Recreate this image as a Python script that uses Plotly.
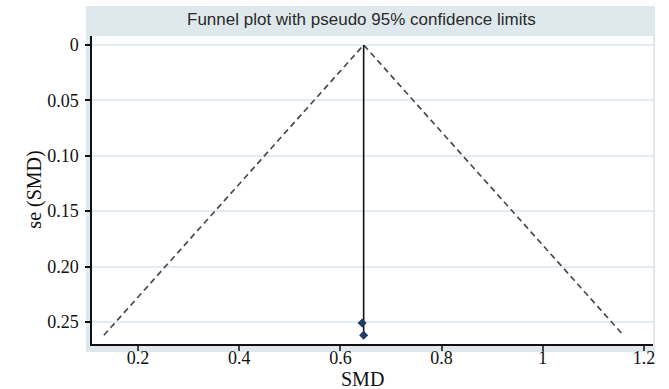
import plotly.graph_objects as go

# Study estimates (standardised mean difference and its standard error)
smd = [0.643, 0.646]
se_smd = [0.251, 0.262]

# Pooled (fixed-effect) estimate and the pseudo 95% limits
pooled_smd = 0.646
z95 = 1.96
se_max = 0.262

x_ticks = [0.2, 0.4, 0.6, 0.8, 1.0, 1.2]
x_tick_text = ["0.2", "0.4", "0.6", "0.8", "1", "1.2"]
y_ticks = [0, 0.05, 0.10, 0.15, 0.20, 0.25]
y_tick_text = ["0", "0.05", "0.10", "0.15", "0.20", "0.25"]

title_text = "Funnel plot with pseudo 95% confidence limits"

band_color = "#dfe9ed"
grid_color = "#e3edf1"
serif = "Liberation Serif, Times New Roman, serif"
sans = "Liberation Sans, Arial, sans-serif"

fig = go.Figure()

# Pseudo 95% confidence limits
fig.add_trace(go.Scatter(
    x=[pooled_smd - z95 * se_max, pooled_smd, pooled_smd + z95 * se_max],
    y=[se_max, 0, se_max],
    mode="lines",
    line=dict(color="#4a4a4a", width=1.7, dash="6px,4px"),
    hoverinfo="skip",
))

# Pooled estimate line
fig.add_trace(go.Scatter(
    x=[pooled_smd, pooled_smd],
    y=[0, se_max],
    mode="lines",
    line=dict(color="#111111", width=1.6),
    hoverinfo="skip",
))

# Individual studies
fig.add_trace(go.Scatter(
    x=smd,
    y=se_smd,
    mode="markers",
    marker=dict(symbol="diamond", size=7, color="#1e3a66"),
))

# Light graph-region band behind the plot, white plot area on top
fig.add_shape(type="rect", xref="paper", yref="paper",
              x0=-0.0107, x1=1.0036, y0=-0.026, y1=1.0974,
              fillcolor=band_color, line=dict(width=0), layer="below")
fig.add_shape(type="rect", xref="paper", yref="paper",
              x0=0, x1=1, y0=0, y1=1,
              fillcolor="white", line=dict(width=0), layer="below")

# Graph title in the band
fig.add_annotation(
    text=title_text, xref="paper", yref="paper",
    x=0.481, y=1.052, xanchor="center", yanchor="middle",
    showarrow=False, font=dict(family=sans, size=17, color="#2a2a2a"),
)

# Axis titles
fig.add_annotation(
    text="SMD", xref="paper", yref="paper",
    x=0.483, y=-0.115, xanchor="center", yanchor="middle",
    showarrow=False, font=dict(family=serif, size=20, color="#111111"),
)
fig.add_annotation(
    text="se (SMD)", xref="paper", yref="paper",
    x=-0.104, y=0.5, xanchor="center", yanchor="middle", textangle=-90,
    showarrow=False, font=dict(family=serif, size=20, color="#111111"),
)

fig.update_layout(
    width=669, height=389,
    margin=dict(l=92, r=16, t=36, b=45),
    paper_bgcolor="white",
    plot_bgcolor="white",
    showlegend=False,
    xaxis=dict(
        range=[0.109, 1.218], automargin=False,
        tickvals=x_ticks, ticktext=x_tick_text,
        ticks="outside", ticklen=5, tickcolor="#444444", tickwidth=1.5,
        ticklabelstandoff=-8,
        showline=True, linecolor="#111111", linewidth=1.5,
        showgrid=False, zeroline=False,
        tickfont=dict(family=serif, size=18, color="#111111"),
    ),
    yaxis=dict(
        range=[0.2699, -0.0081], automargin=False,
        tickvals=y_ticks, ticktext=y_tick_text,
        ticks="outside", ticklen=5, tickcolor="#111111", tickwidth=1.5,
        ticklabelstandoff=3,
        showline=True, linecolor="#111111", linewidth=1.5,
        showgrid=True, gridcolor=grid_color, gridwidth=1.5,
        zeroline=False,
        tickfont=dict(family=serif, size=18, color="#111111"),
    ),
)

fig.write_html("out.html")
